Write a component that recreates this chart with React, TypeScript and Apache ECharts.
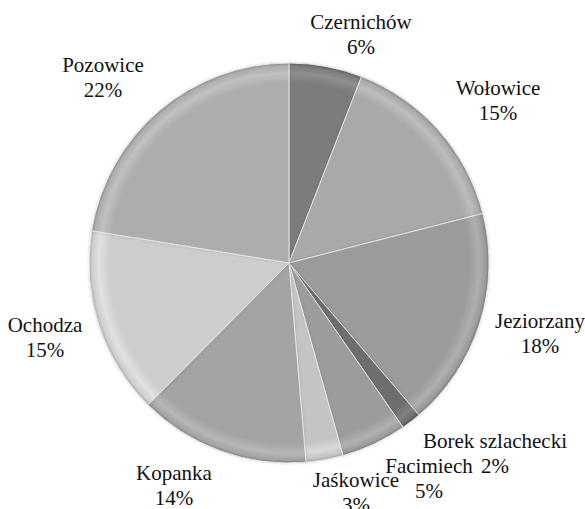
import React, { useEffect, useRef } from "react";
import * as echarts from "echarts";

const names = [
  "Czernichów",
  "Wołowice",
  "Jeziorzany",
  "Borek szlachecki",
  "Facimiech",
  "Jaśkowice",
  "Kopanka",
  "Ochodza",
  "Pozowice",
];
const values = [5.9, 15.1, 17.7, 1.6, 5.3, 3.0, 13.8, 15.1, 22.4];
const sliceColors = [
  "#7b7b7d",
  "#a9a9ab",
  "#9b9b9d",
  "#6e6e70",
  "#9c9c9e",
  "#c4c4c6",
  "#a3a3a5",
  "#cdcdcf",
  "#adadaf",
];
// label anchor positions (layout only)
const labelAnchors: [number, number][] = [
  [361, 34],
  [498, 100],
  [540, 333],
  [495, 453],
  [429, 478],
  [356, 492],
  [174, 485],
  [45, 337],
  [103, 77],
];

const CX = 289;
const CY = 263;
const R = 200;
const FONT = "Times New Roman";

function shade(hex: string, amt: number) {
  const n = parseInt(hex.slice(1), 16);
  const f = (c: number) => Math.max(0, Math.min(255, Math.round(c + amt)));
  const r = f((n >> 16) & 255);
  const g = f((n >> 8) & 255);
  const b = f(n & 255);
  return `rgb(${r},${g},${b})`;
}

export default function App() {
  const ref = useRef<HTMLDivElement>(null);
  useEffect(() => {
    document.body.style.margin = "0";
    const chart = echarts.init(ref.current!, undefined, { renderer: "svg" });
    const data = names.map((n, i) => ({
      name: n,
      value: values[i],
      itemStyle: {
        color: {
          type: "radial",
          x: CX,
          y: CY,
          r: R,
          global: true,
          colorStops: [
            { offset: 0, color: sliceColors[i] },
            { offset: 0.9, color: sliceColors[i] },
            { offset: 0.95, color: shade(sliceColors[i], 20) },
            { offset: 0.985, color: sliceColors[i] },
            { offset: 1, color: shade(sliceColors[i], -35) },
          ],
        },
      },
    }));
    chart.setOption({
      animation: false,
      backgroundColor: "#ffffff",
      textStyle: { fontFamily: FONT },
      series: [
        {
          type: "pie",
          center: [CX, CY],
          radius: [0, R],
          startAngle: 90,
          clockwise: true,
          data,
          itemStyle: {
            borderColor: "rgba(235,235,235,0.85)",
            borderWidth: 1,
            shadowBlur: 3,
            shadowColor: "rgba(0,0,0,0.18)",
          },
          label: {
            show: true,
            position: "outside",
            alignTo: "none",
            overflow: "none",
            formatter: (p: any) => `${p.name}\n${Math.round(p.percent)}%`,
            fontFamily: FONT,
            fontSize: 21,
            lineHeight: 25,
            color: "#111111",
            align: "center",
          },
          labelLine: { show: false },
          labelLayout: (params: any) => {
            const a = labelAnchors[params.dataIndex];
            return {
              x: a[0],
              y: a[1],
              align: "center",
              verticalAlign: "middle",
            };
          },
          emphasis: { disabled: true },
        },
      ],
    });
    return () => chart.dispose();
  }, []);
  return <div ref={ref} style={{ width: 585, height: 509 }} />;
}
